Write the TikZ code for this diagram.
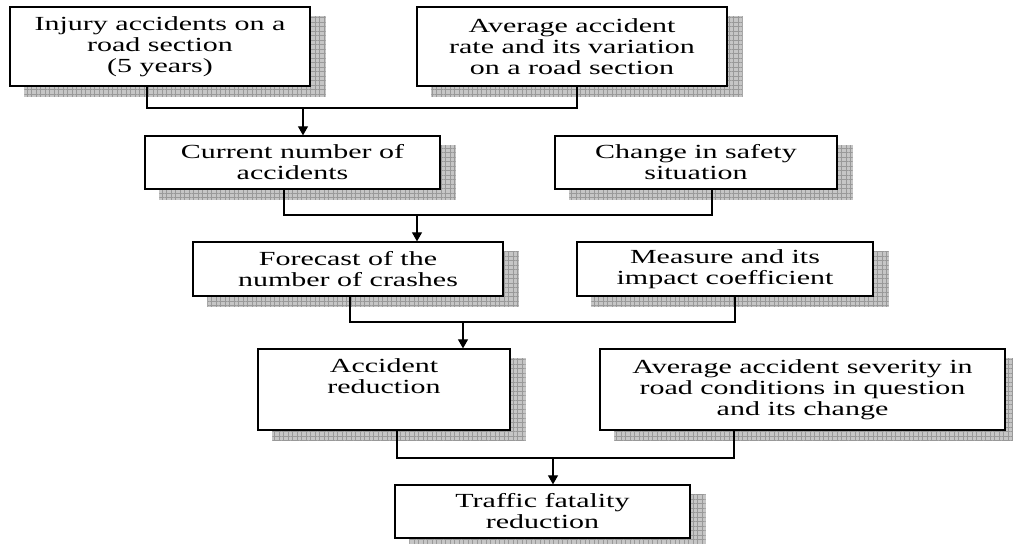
\documentclass[tikz,border=0pt]{standalone}
\usepackage{fontspec}
\setmainfont{Liberation Serif}[FakeStretch=1.5]
\usetikzlibrary{arrows.meta,backgrounds,patterns.meta,calc}
\begin{document}
\begin{tikzpicture}[x=1pt,y=-1pt,
  box/.style={draw=black, line width=1.3pt, fill=white, align=center, inner sep=0pt,
    font=\fontsize{20}{21}\selectfont},
  shadowfill/.style={fill=gray!45},
  shadowgrid/.style={pattern={Hatch[angle=0,distance=4.5pt,line width=0.5pt]}, pattern color=gray!80},
  conn/.style={draw=black, line width=1.1pt},
  arr/.style={draw=black, line width=1.1pt, -{Triangle[width=10pt,length=9pt]}}]
\useasboundingbox (0,0) rectangle (1013,544);

\node[box, minimum width=300pt, minimum height=79pt] (b1) at (160,46.5) {Injury accidents on a\\road section\\(5 years)};
\node[box, minimum width=310pt, minimum height=79pt] (b2) at (572,46.5) {Average accident\\rate and its variation\\on a road section};
\node[box, minimum width=295pt, minimum height=53pt] (b3) at (292.5,162.5) {Current number of\\accidents};
\node[box, minimum width=282pt, minimum height=53pt] (b4) at (696,162.5) {Change in safety\\situation};
\node[box, minimum width=310pt, minimum height=54pt] (b5) at (348,269) {Forecast of the\\number of crashes};
\node[box, minimum width=296pt, minimum height=54pt] (b6) at (725,269) {Measure and its\\impact coefficient};
\node[box, minimum width=252pt, minimum height=81pt] (b7) at (384,389.5) {Accident\\reduction\\\strut};
\node[box, minimum width=405pt, minimum height=81pt] (b8) at (802.5,389.5) {Average accident severity in\\road conditions in question\\and its change};
\node[box, minimum width=295pt, minimum height=53pt] (b9) at (542.5,511.5) {Traffic fatality\\reduction};

\begin{scope}[on background layer]
\foreach \n in {b1,b2,b3,b4,b5,b6,b7,b8,b9}{
  \fill[shadowfill] ($(\n.south west)+(15,10)$) rectangle ($(\n.north east)+(15,10)$);
  \fill[shadowgrid] ($(\n.south west)+(15,10)$) rectangle ($(\n.north east)+(15,10)$);
}
\end{scope}

\coordinate (j1) at (303,108);
\coordinate (j2) at (417,215);
\coordinate (j3) at (463,322);
\coordinate (j4) at (553,458);

\draw[conn] ([xshift=-13pt]b1.south) |- (j1) -| ([xshift=5pt]b2.south);
\draw[arr] (j1) -- (b3.north -| j1);
\draw[conn] ([xshift=-8.5pt]b3.south) |- (j2) -| ([xshift=16pt]b4.south);
\draw[arr] (j2) -- (b5.north -| j2);
\draw[conn] ([xshift=2pt]b5.south) |- (j3) -| ([xshift=10pt]b6.south);
\draw[arr] (j3) -- (b7.north -| j3);
\draw[conn] ([xshift=13pt]b7.south) |- (j4) -| ([xshift=-68.5pt]b8.south);
\draw[arr] (j4) -- (b9.north -| j4);
\end{tikzpicture}
\end{document}
